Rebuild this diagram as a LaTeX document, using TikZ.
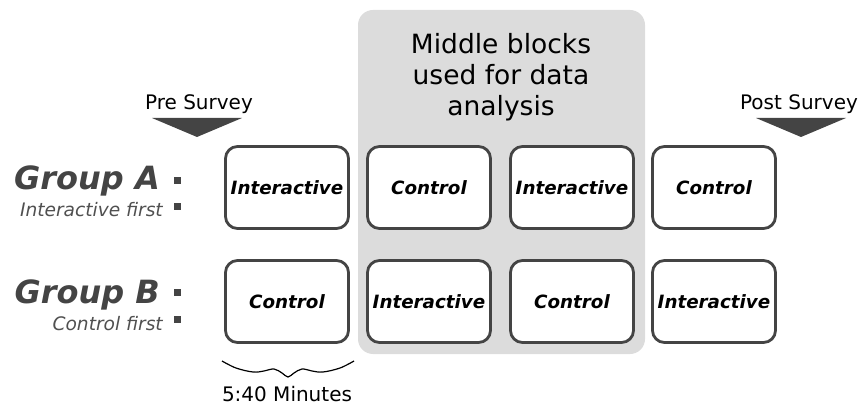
\documentclass[tikz,border=0pt]{standalone}
\usepackage{fontspec}
\setmainfont{DejaVu Sans}
\definecolor{dg}{HTML}{444444}
\definecolor{bg}{HTML}{DCDCDC}
\definecolor{sub}{HTML}{505050}
\tikzset{
  blk/.style={draw=dg, line width=2.8pt, rounded corners=12pt, fill=white, minimum width=123pt, minimum height=82pt, inner sep=0pt, font=\fontsize{18.3}{20}\selectfont\bfseries\itshape},
  grp/.style={text=dg, font=\fontsize{32}{34}\selectfont\bfseries\itshape, anchor=base east, inner sep=0pt},
  grpsub/.style={text=sub, font=\fontsize{18.6}{20}\selectfont\itshape, anchor=base east, inner sep=0pt},
  bul/.style={fill=dg, minimum size=6.5pt, inner sep=0pt},
  tri/.style={fill=dg, draw=none},
  lbl/.style={font=\fontsize{20}{22}\selectfont, inner sep=0pt}
}
\begin{document}
\begin{tikzpicture}[x=1pt,y=-1pt]
\useasboundingbox (0,0) rectangle (862,406);
% gray band
\fill[bg, rounded corners=15pt] (358,10) rectangle (645,354);
\node[align=center, font=\fontsize{26.5}{31}\selectfont, inner sep=0pt] (mid) at (501,77) {Middle blocks\\used for data\\analysis};
% surveys
\node[lbl] (pre) at (199,104) {Pre Survey};
\fill[tri] (152,118) -- (242,118) -- (197,137) -- cycle;
\node[lbl] (post) at (799,104) {Post Survey};
\fill[tri] (756,118) -- (846,118) -- (801,137) -- cycle;
% groups
\node[grp] (ga) at (160,190) {Group A};
\node[grpsub] (gas) at (163,217) {Interactive first};
\node[bul] (ba1) at (177.5,180.5) {};
\node[bul] (ba2) at (177.5,206.5) {};
\node[grp] (gb) at (160,303) {Group B};
\node[grpsub] (gbs) at (163,330) {Control first};
\node[bul] (bb1) at (177.5,292.5) {};
\node[bul] (bb2) at (177.5,319.5) {};
% blocks
\node[blk] (a1) at (287,187.5) {Interactive};
\node[blk] (a2) at (429,187.5) {Control};
\node[blk] (a3) at (572,187.5) {Interactive};
\node[blk] (a4) at (714,187.5) {Control};
\node[blk] (b1) at (287,301.5) {Control};
\node[blk] (b2) at (429,301.5) {Interactive};
\node[blk] (b3) at (572,301.5) {Control};
\node[blk] (b4) at (714,301.5) {Interactive};
% brace
\draw[line width=1.2pt] plot[smooth, tension=0.6] coordinates {(222,361) (236,368) (253,372) (264,371) (274,369) (282,373) (288,377) (294,373) (302,369) (312,371) (323,372) (340,368) (354,361)};
\node[lbl] (dur) at (287,394) {5:40 Minutes};
\end{tikzpicture}
\end{document}
